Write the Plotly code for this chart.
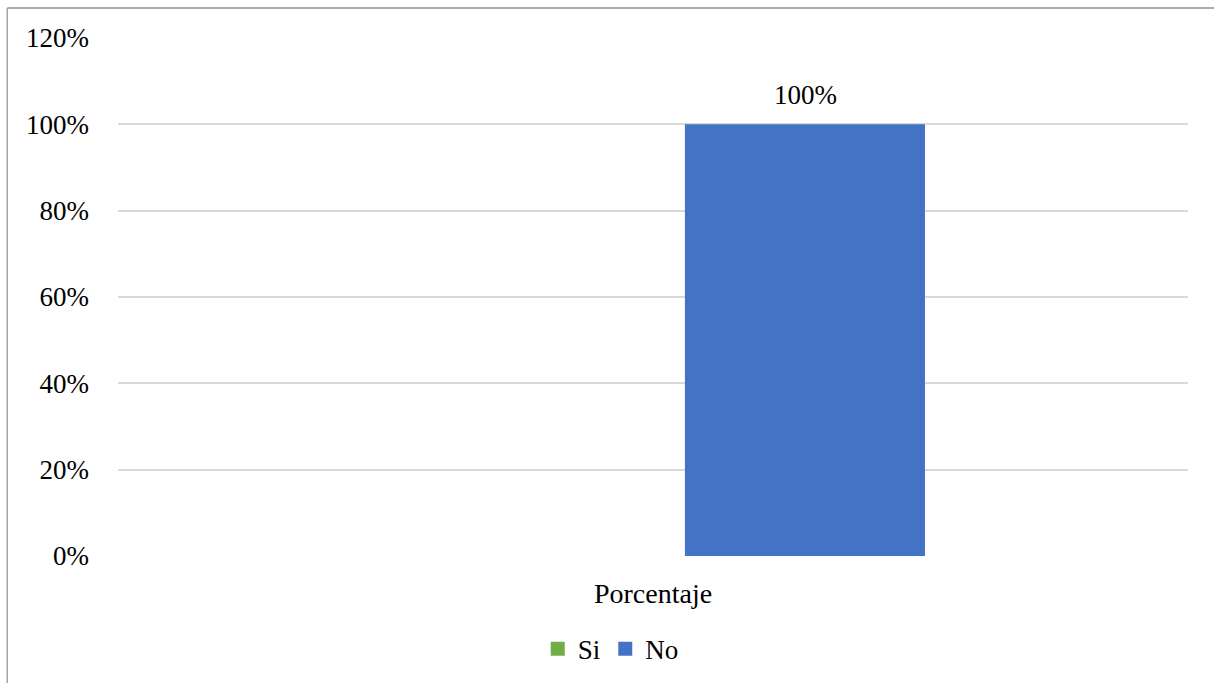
import plotly.graph_objects as go

categories = ["Porcentaje"]
si_values = [0.0]
no_values = [1.0]
tick_vals = [0, 0.2, 0.4, 0.6, 0.8, 1.0, 1.2]

FONT = "Liberation Serif, Times New Roman, serif"
SIZE = 27
SI_COLOR = "#70AD47"
NO_COLOR = "#4472C4"
# horizontal offset (px) of the "No" bar from the category centre
NO_BAR_SHIFT = 152

fig = go.Figure()
fig.add_trace(go.Bar(
    name="Si", x=categories, y=si_values, showlegend=False,
    marker=dict(color=SI_COLOR, line=dict(width=0)),
))
fig.add_trace(go.Bar(
    name="No", x=categories, y=no_values, showlegend=False,
    marker=dict(color=NO_COLOR, line=dict(width=0)),
))

# legend entries with larger square swatches
for name, color in [("Si", SI_COLOR), ("No", NO_COLOR)]:
    fig.add_trace(go.Scatter(
        x=[None], y=[None], mode="markers", name=name,
        marker=dict(symbol="square", size=14, color=color),
    ))

# value label above the "No" bar
for cat, v in zip(categories, no_values):
    fig.add_annotation(
        x=cat, y=v, xref="x", yref="y",
        xshift=NO_BAR_SHIFT, yshift=12,
        text=f"{v:.0%}", showarrow=False, yanchor="bottom",
        font=dict(family=FONT, size=SIZE, color="#000000"),
    )

fig.update_layout(
    width=1214, height=683,
    margin=dict(l=118, r=26, t=38, b=127, autoexpand=False),
    paper_bgcolor="white", plot_bgcolor="white",
    font=dict(family=FONT, size=SIZE, color="#000000"),
    barmode="group",
    bargap=0.432,
    bargroupgap=0.21,
    showlegend=True,
    legend=dict(
        orientation="h",
        x=0.4605, xanchor="center",
        y=-0.18, yanchor="middle",
        font=dict(family=FONT, size=SIZE, color="#000000"),
        itemwidth=30,
        traceorder="normal",
    ),
    xaxis=dict(
        showgrid=False, showline=False, zeroline=False,
        ticks="", ticklabelstandoff=18, automargin=False,
        tickfont=dict(family=FONT, size=SIZE + 1),
    ),
    yaxis=dict(
        range=[0, 1.2],
        tickvals=tick_vals,
        tickformat=".0%",
        showgrid=True, gridcolor="#d9d9d9", gridwidth=1.5,
        zeroline=False, showline=False, ticks="",
        ticklabelstandoff=28, automargin=False,
        tickfont=dict(family=FONT, size=SIZE),
    ),
    shapes=[
        dict(type="line", xref="paper", yref="paper",
             x0=-0.1035, x1=1.1, y0=1.0578, y1=1.0578,
             line=dict(color="#8c8c8c", width=1.5)),
        dict(type="line", xref="paper", yref="paper",
             x0=-0.1035, x1=-0.1035, y0=1.0578, y1=-0.3,
             line=dict(color="#a6a6a6", width=1.5)),
    ],
)

fig.write_html("out.html")
